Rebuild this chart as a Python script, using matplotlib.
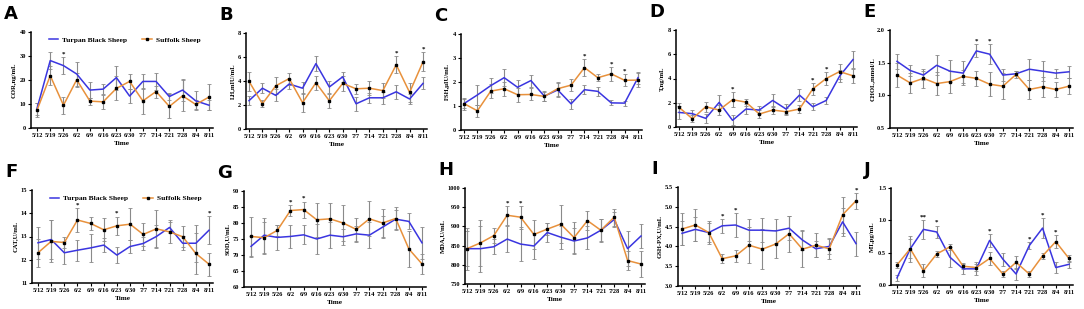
import matplotlib
matplotlib.use("Agg")
import matplotlib.pyplot as plt
from matplotlib.lines import Line2D

plt.rcParams['font.family'] = ['Liberation Serif', 'DejaVu Serif']
plt.rcParams['font.weight'] = 'bold'

dates = ['5/12', '5/19', '5/26', '6/2', '6/9', '6/16', '6/23', '6/30',
         '7/7', '7/14', '7/21', '7/28', '8/4', '8/11']

# A: COR
cor_tbs = [8.1, 28.1, 26.0, 22.5, 15.8, 16.2, 21.0, 13.3, 19.4, 19.4, 13.1, 15.8, 11.3, 9.5]
cor_tbs_err = [2.5, 3.5, 3.5, 5.0, 3.5, 2.0, 5.0, 3.0, 3.0, 3.5, 1.5, 4.5, 4.0, 2.0]
cor_suf = [7.4, 21.8, 9.5, 20.1, 11.2, 10.9, 16.5, 19.4, 11.3, 15.2, 9.0, 13.4, 9.8, 12.9]
cor_suf_err = [3.0, 4.0, 3.5, 3.0, 1.5, 3.0, 5.0, 3.0, 5.5, 2.5, 5.0, 6.5, 2.0, 5.5]
cor_stars = {2: '*'}

# B: LH
lh_tbs = [2.36, 3.4, 2.8, 3.75, 3.4, 5.45, 3.5, 4.35, 2.1, 2.6, 2.6, 3.1, 2.5, 3.8]
lh_tbs_err = [0.4, 0.4, 0.5, 0.4, 0.5, 0.6, 0.5, 0.4, 0.6, 0.4, 0.5, 0.6, 0.4, 0.5]
lh_suf = [3.97, 2.1, 3.6, 4.2, 2.2, 3.85, 2.35, 3.8, 3.35, 3.4, 3.2, 5.35, 3.05, 5.6]
lh_suf_err = [0.8, 0.3, 0.7, 0.5, 0.8, 0.6, 0.6, 0.6, 0.4, 0.6, 0.6, 0.7, 0.8, 0.8]
lh_stars = {11: '*', 13: '*'}

# C: FSH
fsh_tbs = [1.1, 1.46, 1.85, 2.18, 1.78, 2.06, 1.41, 1.67, 1.09, 1.68, 1.61, 1.13, 1.12, 2.18]
fsh_tbs_err = [0.25, 0.4, 0.3, 0.35, 0.3, 0.25, 0.2, 0.3, 0.2, 0.2, 0.2, 0.1, 0.1, 0.25]
fsh_suf = [1.1, 0.8, 1.62, 1.72, 1.47, 1.48, 1.4, 1.72, 1.87, 2.6, 2.18, 2.34, 2.07, 2.08]
fsh_suf_err = [0.2, 0.25, 0.3, 0.3, 0.3, 0.25, 0.2, 0.3, 0.25, 0.35, 0.15, 0.3, 0.25, 0.3]
fsh_stars = {9: '*', 11: '*', 12: '*'}

# D: T
t_tbs = [1.2, 1.1, 0.71, 2.03, 0.55, 1.48, 1.4, 2.19, 1.48, 2.63, 1.67, 2.19, 4.2, 5.56]
t_tbs_err = [0.5, 0.3, 0.4, 0.6, 0.4, 0.4, 0.3, 0.5, 0.4, 0.5, 0.3, 0.3, 0.5, 0.7]
t_suf = [1.62, 0.68, 1.67, 1.4, 2.25, 2.05, 1.07, 1.4, 1.26, 1.48, 3.15, 4.0, 4.57, 4.22]
t_suf_err = [0.4, 0.3, 0.4, 0.4, 0.6, 0.3, 0.3, 0.3, 0.3, 0.3, 0.5, 0.5, 0.6, 0.6]
t_stars = {4: '*', 10: '*', 11: '*'}

# E: CHOL
chol_tbs = [1.52, 1.38, 1.31, 1.46, 1.37, 1.34, 1.68, 1.63, 1.31, 1.33, 1.40, 1.37, 1.34, 1.36]
chol_tbs_err = [0.12, 0.09, 0.07, 0.15, 0.17, 0.18, 0.1, 0.15, 0.09, 0.04, 0.16, 0.15, 0.07, 0.09]
chol_suf = [1.31, 1.19, 1.26, 1.18, 1.21, 1.29, 1.26, 1.17, 1.14, 1.32, 1.09, 1.13, 1.09, 1.14]
chol_suf_err = [0.18, 0.15, 0.15, 0.18, 0.17, 0.1, 0.12, 0.18, 0.2, 0.05, 0.15, 0.15, 0.12, 0.12]
chol_stars = {6: '*', 7: '*'}

# F: CAT
cat_tbs = [12.73, 12.87, 12.3, 12.41, 12.51, 12.63, 12.2, 12.57, 12.7, 13.0, 13.39, 12.71, 12.71, 13.27]
cat_tbs_err = [0.7, 0.85, 0.5, 0.45, 0.6, 0.3, 0.35, 0.3, 0.3, 0.5, 0.25, 0.3, 0.8, 0.6]
cat_suf = [12.3, 12.79, 12.74, 13.71, 13.56, 13.29, 13.46, 13.53, 13.09, 13.33, 13.2, 12.99, 12.27, 11.81]
cat_suf_err = [0.6, 0.9, 0.25, 0.5, 0.3, 0.5, 0.4, 0.7, 0.5, 0.8, 0.5, 0.45, 0.9, 0.5]
cat_stars = {3: '*', 6: '*', 13: '*'}

# G: SOD
sod_tbs = [72.7, 76.2, 75.5, 75.8, 76.3, 75.0, 76.2, 75.7, 76.6, 76.2, 78.7, 81.2, 80.5, 73.8]
sod_tbs_err = [3.3, 5.5, 3.9, 3.5, 3.0, 4.7, 4.0, 2.5, 2.5, 4.0, 3.5, 3.0, 2.5, 5.0]
sod_suf = [75.8, 75.4, 77.7, 83.9, 84.2, 81.0, 81.3, 80.0, 78.0, 81.3, 80.0, 81.4, 71.9, 67.2]
sod_suf_err = [6.0, 5.0, 1.7, 1.8, 2.5, 5.3, 5.0, 5.5, 3.5, 5.5, 4.5, 3.7, 5.7, 3.0]
sod_stars = {3: '*', 4: '*'}

# H: MDA
mda_tbs = [842, 842, 847, 867, 854, 849, 884, 872, 862, 870, 890, 918, 842, 875]
mda_tbs_err = [45, 60, 20, 33, 45, 35, 25, 30, 35, 30, 28, 20, 45, 30]
mda_suf = [842, 857, 876, 929, 924, 879, 893, 906, 871, 915, 890, 924, 811, 802]
mda_suf_err = [55, 60, 20, 25, 30, 38, 15, 50, 40, 25, 30, 22, 25, 35]
mda_stars = {3: '*', 4: '*'}

# I: GSH-PX
gsh_tbs = [4.33, 4.43, 4.35, 4.52, 4.54, 4.41, 4.41, 4.39, 4.46, 4.16, 3.94, 4.0, 4.62, 4.07]
gsh_tbs_err = [0.3, 0.3, 0.3, 0.17, 0.3, 0.27, 0.3, 0.3, 0.3, 0.25, 0.2, 0.2, 0.35, 0.3]
gsh_suf = [4.44, 4.54, 4.35, 3.69, 3.76, 4.03, 3.93, 4.06, 4.32, 3.93, 4.03, 3.94, 4.80, 5.15]
gsh_suf_err = [0.4, 0.4, 0.25, 0.12, 0.15, 0.45, 0.5, 0.35, 0.45, 0.45, 0.3, 0.25, 0.45, 0.2]
gsh_stars = {3: '*', 4: '*', 13: '*'}

# J: MT
mt_tbs = [0.11, 0.56, 0.86, 0.82, 0.43, 0.25, 0.25, 0.69, 0.40, 0.17, 0.61, 0.88, 0.27, 0.32]
mt_tbs_err = [0.05, 0.2, 0.15, 0.1, 0.15, 0.08, 0.1, 0.1, 0.1, 0.1, 0.05, 0.15, 0.08, 0.05]
mt_suf = [0.31, 0.56, 0.22, 0.48, 0.59, 0.29, 0.27, 0.41, 0.17, 0.35, 0.17, 0.45, 0.67, 0.41]
mt_suf_err = [0.05, 0.15, 0.1, 0.05, 0.05, 0.05, 0.05, 0.1, 0.05, 0.1, 0.05, 0.05, 0.1, 0.05]
mt_stars = {2: '**', 3: '*', 7: '*', 10: '*', 11: '*', 12: '*'}

BLUE = '#3a35e0'
ORANGE = '#e8913c'
W, H = 1084, 309

# (letter, ylabel, tbs, tbs_err, suf, suf_err, stars, ylim, yticks, ytick labels,
#  layout px: axis_left, first_x, last_x, top, bottom)
panels = [
    ('A', 'COR,ng/mL', cor_tbs, cor_tbs_err, cor_suf, cor_suf_err, cor_stars,
     (0, 40), [0, 10, 20, 30, 40], ['0', '10', '20', '30', '40'], (31, 37, 209, 32, 128)),
    ('B', 'LH,mIU/mL', lh_tbs, lh_tbs_err, lh_suf, lh_suf_err, lh_stars,
     (0, 8), [0, 2, 4, 6, 8], ['0', '2', '4', '6', '8'], (246, 249, 423, 33, 129)),
    ('C', 'FSH,μIU/mL', fsh_tbs, fsh_tbs_err, fsh_suf, fsh_suf_err, fsh_stars,
     (0, 4), [0, 1, 2, 3, 4], ['0', '1', '2', '3', '4'], (461, 464, 638, 34, 130)),
    ('D', 'T,ng/mL', t_tbs, t_tbs_err, t_suf, t_suf_err, t_stars,
     (0, 8), [0, 2, 4, 6, 8], ['0', '2', '4', '6', '8'], (676, 679, 853, 30, 127)),
    ('E', 'CHOL,mmol/L', chol_tbs, chol_tbs_err, chol_suf, chol_suf_err, chol_stars,
     (0.5, 2.0), [0.5, 1.0, 1.5, 2.0], ['0.5', '1.0', '1.5', '2.0'], (890, 897, 1069, 30, 128)),
    ('F', 'CAT,U/mL', cat_tbs, cat_tbs_err, cat_suf, cat_suf_err, cat_stars,
     (11, 15), [11, 12, 13, 14, 15], ['11', '12', '13', '14', '15'], (32, 38, 209, 190, 283)),
    ('G', 'SOD,U/mL', sod_tbs, sod_tbs_err, sod_suf, sod_suf_err, sod_stars,
     (60, 90), [60, 65, 70, 75, 80, 85, 90], ['60', '65', '70', '75', '80', '85', '90'], (244, 251, 422, 191, 287)),
    ('H', 'MDA,U/mL', mda_tbs, mda_tbs_err, mda_suf, mda_suf_err, mda_stars,
     (750, 1000), [750, 800, 850, 900, 950, 1000], ['750', '800', '850', '900', '950', '1000'], (465, 467, 641, 188, 284)),
    ('I', 'GSH-PX,U/mL', gsh_tbs, gsh_tbs_err, gsh_suf, gsh_suf_err, gsh_stars,
     (3.0, 5.5), [3.0, 3.5, 4.0, 4.5, 5.0, 5.5], ['3.0', '3.5', '4.0', '4.5', '5.0', '5.5'], (678, 682, 856, 187, 286)),
    ('J', 'MT,pg/mL', mt_tbs, mt_tbs_err, mt_suf, mt_suf_err, mt_stars,
     (0, 1.5), [0.0, 0.5, 1.0, 1.5], ['0.0', '0.5', '1.0', '1.5'], (891, 897, 1069, 188, 285)),
]

fig = plt.figure(figsize=(W / 100, H / 100), dpi=100)
fig.patch.set_facecolor('white')

x = list(range(len(dates)))

for letter, ylab, tbs, tbs_e, suf, suf_e, stars, ylim, yt, ytl, lay in panels:
    ax_left, x0, x1, top, bottom = lay
    step = (x1 - x0) / (len(dates) - 1)
    xmin = -(x0 - ax_left) / step
    xmax = len(dates) - 1 + 4 / step
    ax = fig.add_axes([ax_left / W, 1 - bottom / H, (x1 + 4 - ax_left) / W, (bottom - top) / H])
    ax.set_xlim(xmin, xmax)
    ax.set_ylim(*ylim)

    # error bars first (gray), then lines
    ax.errorbar(x, tbs, yerr=tbs_e, fmt='none', ecolor='#8a8a8a', elinewidth=0.8,
                capsize=1.2, capthick=0.6, zorder=2)
    ax.errorbar(x, suf, yerr=suf_e, fmt='none', ecolor='#8a8a8a', elinewidth=0.8,
                capsize=1.2, capthick=0.6, zorder=2)
    ax.plot(x, tbs, color=BLUE, lw=1.1, zorder=3)
    ax.plot(x, suf, color=ORANGE, lw=1.1, marker='s', ms=1.8,
            mfc='black', mec='black', zorder=4)

    # significance marks
    span = ylim[1] - ylim[0]
    for i, s in stars.items():
        top_val = max(tbs[i] + tbs_e[i], suf[i] + suf_e[i])
        ax.text(i, top_val + span * 0.005, s, ha='center', va='bottom',
                fontsize=5, color='black')

    for sp in ['top', 'right']:
        ax.spines[sp].set_visible(False)
    for sp in ['left', 'bottom']:
        ax.spines[sp].set_linewidth(1.1)
    ax.set_xticks(x)
    ax.set_xticklabels(dates, fontsize=4.6, fontweight='bold')
    ax.set_yticks(yt)
    ax.set_yticklabels(ytl, fontsize=4.6, fontweight='bold')
    ax.tick_params(axis='both', length=2, width=0.8, pad=1.5)
    ax.set_xlabel('Time', fontsize=5.2, fontweight='bold', labelpad=2)
    ax.set_ylabel(ylab, fontsize=4.8, fontweight='bold', labelpad=2)

    fig.text((ax_left - 27) / W, 1 - (top - 9) / H, letter, fontsize=13,
             fontweight='bold', family='DejaVu Sans', ha='left', va='bottom')

    if letter in ('A', 'F'):
        handles = [Line2D([], [], color=BLUE, lw=1.1),
                   Line2D([], [], color=ORANGE, lw=1.1, marker='s', ms=1.8,
                          mfc='black', mec='black')]
        ax.legend(handles, ['Turpan Black Sheep', 'Suffolk Sheep'], ncol=2,
                  loc='upper left', bbox_to_anchor=(0.06, 1.02), frameon=False,
                  prop={'size': 5.4, 'weight': 'bold'}, handlelength=1.3,
                  columnspacing=2.0, handletextpad=0.5)

fig.savefig('out.png', dpi=100)
